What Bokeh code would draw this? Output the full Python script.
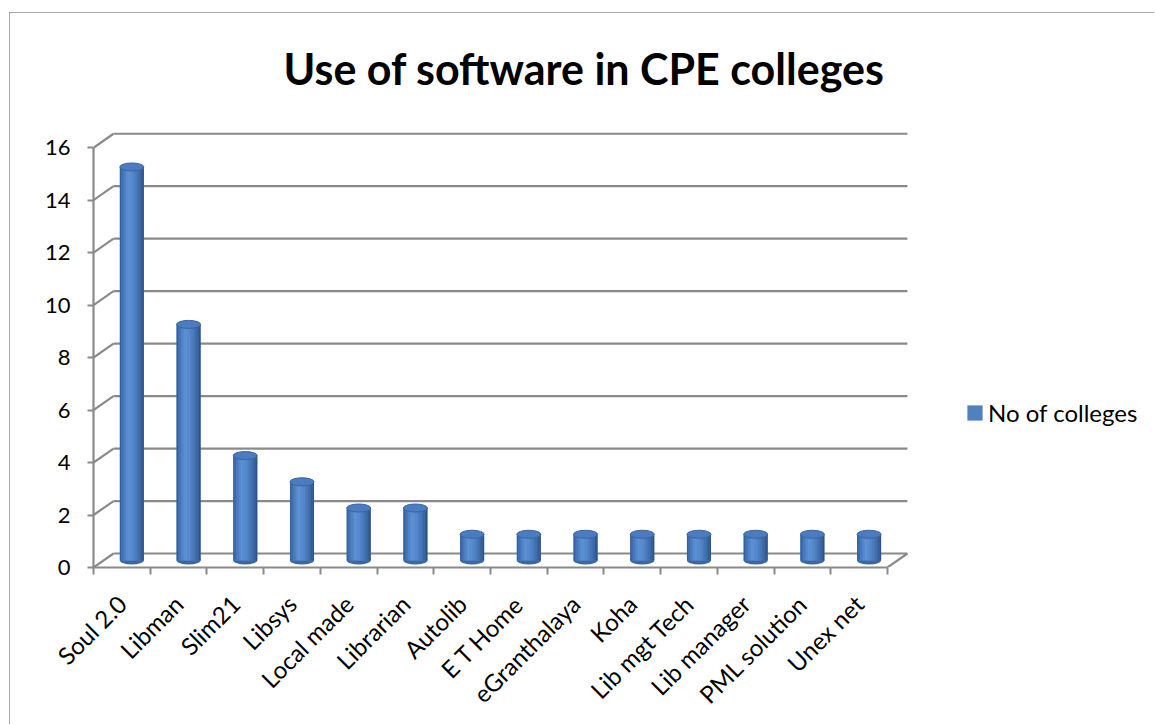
import math
from bokeh.plotting import figure
from bokeh.models import (Range1d, FixedTicker, Legend, LegendItem)
from bokeh.embed import file_html
from bokeh.resources import INLINE

# ---------------- data ----------------
categories = ["Soul 2.0", "Libman", "Slim21", "Libsys", "Local made", "Librarian",
              "Autolib", "E T Home", "eGranthalaya", "Koha", "Lib mgt Tech",
              "Lib manager", "PML solution", "Unex net"]
values = [15, 9, 4, 3, 2, 2, 1, 1, 1, 1, 1, 1, 1, 1]
y_ticks = [0, 2, 4, 6, 8, 10, 12, 14, 16]
series_name = "No of colleges"
title_text = "Use of software in CPE colleges"

# ---------------- geometry / style ----------------
FONT = "Lato"
GRID = "#8a8a8a"
W, H = 1145, 712
LEFT, TOP, FRAME_H = 84, 109, 446
FRAME_W = W - LEFT
XPX = 56.71                      # px per category
Y_END = 17.0
YPX = FRAME_H / Y_END            # px per unit
DX = 20 / XPX                    # 3-D depth offset (data units)
DY = 14 / YPX
BAR_W_PX = 24
BAR_W = BAR_W_PX / XPX
n = len(categories)

p = figure(width=W, height=H, output_backend="svg", toolbar_location=None,
           x_range=Range1d(0, FRAME_W / XPX), y_range=Range1d(0, Y_END),
           min_border_left=LEFT, min_border_top=TOP,
           min_border_bottom=H - TOP - FRAME_H, min_border_right=0,
           background_fill_color="white", border_fill_color="white")
p.margin = (12, 0, 0, 9)
p.styles = {"box-shadow": "inset 2px 2px 0 0 #8c8c8c"}
p.outline_line_color = None
p.grid.visible = False

# title
p.title.text = title_text
p.title.text_font = FONT
p.title.text_font_size = "43px"
p.title.text_font_style = "bold"
p.title.text_color = "black"
p.title.align = "left"
p.title.offset = 190
p.title.standoff = 56

# --- 3-D walls (back grid lines, side diagonals, floor edge) ---
back_x0 = [DX] * len(y_ticks)
back_x1 = [n + DX] * len(y_ticks)
back_y = [v + DY for v in y_ticks]
p.segment(x0=back_x0, y0=back_y, x1=back_x1, y1=back_y, line_color=GRID, line_width=2.2)
p.segment(x0=[0] * len(y_ticks), y0=y_ticks, x1=[DX] * len(y_ticks), y1=back_y,
          line_color=GRID, line_width=2.2)
p.segment(x0=[n], y0=[0], x1=[n + DX], y1=[DY], line_color=GRID, line_width=2.2)

# --- cylinders ---
cx = [i + 0.5 + DX / 2 for i in range(n)]
base = DY / 2
tops = [v + base for v in values]

# bottom caps
p.ellipse(x=cx, y=[base] * n, width=BAR_W_PX, height=8, width_units="screen",
          height_units="screen", fill_color="#3b67a3", line_color=None)

# base body (legend renderer)
body = p.quad(left=[c - BAR_W / 2 for c in cx], right=[c + BAR_W / 2 for c in cx],
              bottom=[base] * n, top=tops, fill_color="#4f81bd", line_color=None)

# shading strips
stops = [(0.0, (0x2f, 0x5a, 0x93)), (0.12, (0x42, 0x72, 0xb4)), (0.35, (0x5e, 0x93, 0xd8)),
         (0.55, (0x56, 0x89, 0xcc)), (0.8, (0x3f, 0x6d, 0xab)), (1.0, (0x2a, 0x4f, 0x82))]

def shade(t):
    for (t0, c0), (t1, c1) in zip(stops[:-1], stops[1:]):
        if t0 <= t <= t1:
            f = (t - t0) / (t1 - t0)
            return "#%02x%02x%02x" % tuple(int(round(a + (b - a) * f)) for a, b in zip(c0, c1))
    return "#2a4f82"

NS = 16
sl, sr, sb, st, sc = [], [], [], [], []
for c, tp in zip(cx, tops):
    for k in range(NS):
        l = c - BAR_W / 2 + BAR_W * k / NS
        sl.append(l)
        sr.append(l + BAR_W / NS * 1.02)
        sb.append(base)
        st.append(tp)
        sc.append(shade((k + 0.5) / NS))
p.quad(left=sl, right=sr, bottom=sb, top=st, fill_color=sc, line_color=None)

# top caps
p.ellipse(x=cx, y=tops, width=BAR_W_PX, height=8, width_units="screen",
          height_units="screen", fill_color="#4a7cbf", line_color="#3a65a0", line_width=1)

# --- axes ---
ya = p.yaxis[0]
ya.ticker = FixedTicker(ticks=y_ticks, minor_ticks=[])
ya.bounds = (0, 16)
ya.axis_line_color = GRID
ya.axis_line_width = 2.2
ya.major_tick_line_color = GRID
ya.major_tick_line_width = 2
ya.major_tick_out = 6
ya.major_tick_in = 0
ya.minor_tick_line_color = None
ya.major_label_standoff = 17
ya.major_label_text_font = FONT
ya.major_label_text_font_size = "22px"
ya.major_label_text_color = "black"

xa = p.xaxis[0]
centers = [i + 0.5 for i in range(n)]
xa.ticker = FixedTicker(ticks=centers, minor_ticks=list(range(n + 1)))
xa.major_label_overrides = {c: name for c, name in zip(centers, categories)}
xa.bounds = (0, n)
xa.axis_line_color = GRID
xa.axis_line_width = 2.2
xa.major_tick_line_color = None
xa.major_tick_out = 0
xa.major_tick_in = 0
xa.minor_tick_line_color = GRID
xa.minor_tick_line_width = 2
xa.minor_tick_out = 7
xa.minor_tick_in = 0
xa.major_label_orientation = math.pi / 4
xa.major_label_standoff = 25
xa.major_label_text_font = FONT
xa.major_label_text_font_size = "24px"
xa.major_label_text_color = "black"

# --- legend ---
legend = Legend(items=[LegendItem(label=series_name, renderers=[body])],
                location=(872, 140), orientation="vertical")
legend.padding = 0
legend.margin = 0
legend.spacing = 0
legend.border_line_color = None
legend.background_fill_alpha = 0
legend.glyph_width = 19
legend.glyph_height = 19
legend.label_standoff = 4
legend.label_text_font = FONT
legend.label_text_font_size = "24px"
legend.label_text_color = "black"
p.add_layout(legend, "center")

open("out.html", "w").write(file_html(p, INLINE))
